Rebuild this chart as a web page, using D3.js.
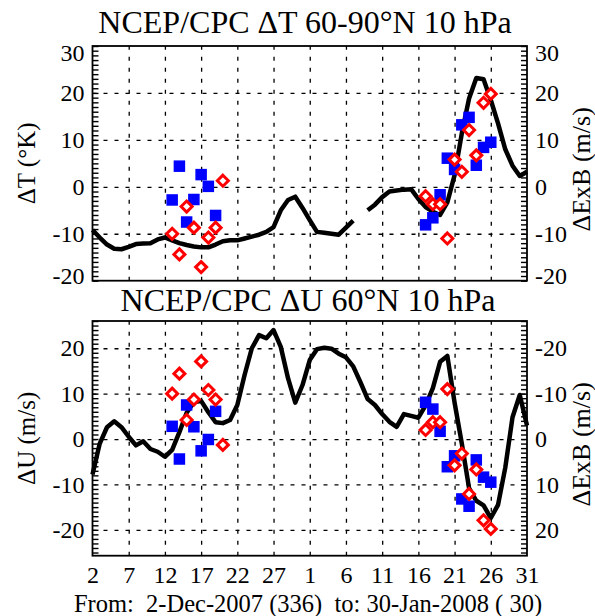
<!DOCTYPE html>
<html>
<head>
<meta charset="utf-8">
<script src="https://cdn.jsdelivr.net/npm/d3@7"></script>
<style>
  body { margin: 0; background: #fff; }
</style>
</head>
<body>
<script>
// day index 0 = 2-Dec-2007 ... 60 = 31-Jan-2008
const tickDays = [0, 5, 10, 15, 20, 25, 30, 35, 40, 45, 50, 55, 60];
const tickLabels = ['2', '7', '12', '17', '22', '27', '1', '6', '11', '16', '21', '26', '31'];

// NCEP/CPC dT 60-90N 10 hPa (daily, null = missing)
const dT = [
  -9.2, -10.8, -12.3, -13.2, -13.3, -12.8, -12.2, -12.1, -12.0, -11.2,
  -10.8, -11.4, -12.0, -12.4, -12.7, -12.9, -12.9, -12.3, -11.6, -11.4,
  -11.4, -11.0, -10.6, -10.2, -9.6, -8.6, -5.0, -2.8, -2.1, -4.5,
  -7.1, -9.6, -9.8, -10.0, -10.2, -8.7, -7.2, null, -5.0, -3.8,
  -2.2, -1.0, -0.8, -0.6, -0.5, -2.6, -4.3, -5.3, -6.0, -3.3,
  2.5, 11.4, 18.8, 23.2, 22.9, 18.5, 13.5, 8.0, 4.5, 2.3,
  3.2
];

// NCEP/CPC dU 60N 10 hPa (daily)
const dU = [
  -7.8, -1.0, 2.6, 3.9, 2.6, 0.5, -1.4, -0.5, -2.2, -2.8,
  -3.9, -2.4, 1.5, 5.8, 8.1, 8.4, 5.9, 3.7, 3.5, 4.2,
  7.5, 14.1, 20.0, 22.9, 22.2, 24.0, 20.3, 13.4, 8.0, 11.9,
  17.4, 19.8, 20.1, 19.9, 18.8, 18.0, 16.0, 12.5, 8.8, 7.5,
  5.5, 3.8, 2.7, 5.5, 5.1, 4.7, 7.4, 11.2, 17.0, 18.3,
  8.0, -1.0, -10.8, -13.6, -14.6, -17.4, -14.5, -6.3, 4.8, 9.7,
  3.0
];

// dExB (m/s), two sets
const blueDays = [11, 12, 13, 14, 15, 16, 17, 46, 47, 48, 49, 50, 51, 52, 53, 54, 55];
const blueExB = [-2.8, 4.4, -7.5, -2.7, 2.6, 0.1, -6.1, -8.1, -6.6, -1.7, 6.1, 3.7, 13.2, 14.8, 4.6, 8.4, 9.5];
const redDays = [11, 12, 13, 14, 15, 16, 17, 18, 46, 47, 48, 49, 50, 51, 52, 53, 54, 55];
const redExB = [-10.0, -14.4, -4.2, -8.7, -17.1, -10.8, -8.7, 1.3, -2.0, -3.7, -3.7, -11.0, 5.8, 3.2, 12.1, 6.7, 17.9, 19.8];

const topTicks = [-20, -10, 0, 10, 20, 30];
const botTicks = [-20, -10, 0, 10, 20];

const width = 595, height = 616;
const fontSize = 24;
const serif = 'Liberation Serif, Times New Roman, serif';

const svg = d3.select('body').append('svg')
  .attr('width', width)
  .attr('height', height)
  .style('font-family', serif);

const x = d3.scaleLinear().domain([0, 60]).range([92.5, 527]);

function styleLabels(s) {
  s.select('.domain').remove();
  s.attr('font-family', null).attr('font-size', fontSize);
  s.selectAll('text').style('font-family', serif).attr('fill', '#000');
}

function panel(o) {
  const y = o.y, yR = o.yR;
  const [b, t] = y.range();
  const [l, r] = x.range();
  const g = svg.append('g');

  // grid (dashed)
  g.append('g')
    .attr('transform', 'translate(0,' + b + ')')
    .call(d3.axisBottom(x).tickValues(tickDays.slice(1, -1)).tickSize(-(b - t)).tickFormat(''))
    .call(s => s.select('.domain').remove())
    .selectAll('line')
      .attr('stroke', '#000').attr('stroke-width', 1.3).attr('stroke-dasharray', '4,7');
  g.append('g')
    .attr('transform', 'translate(' + l + ',0)')
    .call(d3.axisLeft(y).tickValues(o.ticks.filter(v => y(v) > t + 2 && y(v) < b - 2)).tickSize(-(r - l)).tickFormat(''))
    .call(s => s.select('.domain').remove())
    .selectAll('line')
      .attr('stroke', '#000').attr('stroke-width', 1.3).attr('stroke-dasharray', '4,7');

  // minor ticks, 1 unit, inward
  const ld = y.domain();
  const minorL = d3.range(Math.ceil(ld[0]), Math.floor(ld[1]) + 1);
  g.append('g')
    .attr('transform', 'translate(' + l + ',0)')
    .call(d3.axisLeft(y).tickValues(minorL).tickSize(-6).tickFormat(''))
    .call(s => s.select('.domain').remove())
    .selectAll('line').attr('stroke', '#000').attr('stroke-width', 1.4);
  const rd = yR.domain();
  const minorR = d3.range(Math.ceil(Math.min(rd[0], rd[1])), Math.floor(Math.max(rd[0], rd[1])) + 1);
  g.append('g')
    .attr('transform', 'translate(' + r + ',0)')
    .call(d3.axisRight(yR).tickValues(minorR).tickSize(-6).tickFormat(''))
    .call(s => s.select('.domain').remove())
    .selectAll('line').attr('stroke', '#000').attr('stroke-width', 1.4);

  // tick labels (extreme ones pulled inside the frame)
  const shift = p => {
    if (p - t < 4) return 7;
    if (b - p < 4) return -5;
    return 0;
  };
  g.append('g')
    .attr('transform', 'translate(' + l + ',0)')
    .call(d3.axisLeft(y).tickValues(o.ticks).tickSize(0).tickPadding(8).tickFormat(d => String(d)))
    .call(styleLabels)
    .selectAll('text').attr('y', d => shift(y(d)));
  g.append('g')
    .attr('transform', 'translate(' + r + ',0)')
    .call(d3.axisRight(yR).tickValues(o.rTicks).tickSize(0).tickPadding(8).tickFormat(d => String(d)))
    .call(styleLabels)
    .selectAll('text').attr('y', d => shift(yR(d)));

  // data line
  const line = d3.line()
    .defined(d => d != null)
    .x((d, i) => x(i))
    .y(d => y(d));
  g.append('path')
    .datum(o.series)
    .attr('fill', 'none')
    .attr('stroke', '#000')
    .attr('stroke-width', 4.5)
    .attr('stroke-linejoin', 'round')
    .attr('d', line);

  // dExB markers
  g.selectAll('.blue')
    .data(blueDays.map((d, i) => [d, blueExB[i]]))
    .join('rect')
      .attr('x', d => x(d[0]) - 5)
      .attr('y', d => yR(d[1]) - 5)
      .attr('width', 10)
      .attr('height', 10)
      .attr('fill', '#0000ff')
      .attr('stroke', '#0000ff')
      .attr('stroke-width', 1.5);
  g.selectAll('.red')
    .data(redDays.map((d, i) => [d, redExB[i]]))
    .join('path')
      .attr('transform', d => 'translate(' + x(d[0]) + ',' + yR(d[1]) + ')')
      .attr('d', 'M0,-5.5L5.5,0L0,5.5L-5.5,0Z')
      .attr('fill', '#fff')
      .attr('stroke', '#ff0000')
      .attr('stroke-width', 3);

  // frame
  g.append('rect')
    .attr('x', l)
    .attr('y', t)
    .attr('width', r - l)
    .attr('height', b - t)
    .attr('fill', 'none')
    .attr('stroke', '#000')
    .attr('stroke-width', 1.8);

  // titles
  svg.append('text')
    .attr('x', o.titleX)
    .attr('y', o.titleY)
    .attr('text-anchor', 'middle')
    .style('font-family', serif)
    .attr('font-size', 32)
    .text(o.title);
  svg.append('text')
    .attr('transform', 'translate(' + 35 + ',' + (t + b) / 2 + ') rotate(-90)')
    .attr('text-anchor', 'middle')
    .style('font-family', serif)
    .attr('font-size', 25)
    .text(o.leftLabel);
  svg.append('text')
    .attr('transform', 'translate(' + 590 + ',' + ((t + b) / 2 + 6) + ') rotate(-90)')
    .attr('text-anchor', 'middle')
    .style('font-family', serif)
    .attr('font-size', 26)
    .text('\u0394ExB (m/s)');
}

const yT = d3.scaleLinear().domain([-20, 30]).range([280.7, 46]);
panel({
  y: yT,
  yR: yT,
  ticks: topTicks,
  rTicks: topTicks,
  series: dT,
  title: 'NCEP/CPC \u0394T 60-90\u00b0N 10 hPa',
  titleX: 305,
  titleY: 33,
  leftLabel: '\u0394T (\u00b0K)'
});

const yU = d3.scaleLinear().domain([-25.7, 26]).range([555.7, 321]);
const yE = d3.scaleLinear().domain([25.7, -26]).range([555.7, 321]);
panel({
  y: yU,
  yR: yE,
  ticks: botTicks,
  rTicks: botTicks.map(v => -v),
  series: dU,
  title: 'NCEP/CPC \u0394U 60\u00b0N 10 hPa',
  titleX: 308,
  titleY: 311,
  leftLabel: '\u0394U (m/s)'
});

// x tick labels
svg.append('g')
  .attr('transform', 'translate(0,557)')
  .call(d3.axisBottom(x).tickValues(tickDays).tickSize(0).tickPadding(9).tickFormat((d, i) => tickLabels[i]))
  .call(styleLabels);

svg.append('text')
  .attr('x', 308)
  .attr('y', 612)
  .attr('text-anchor', 'middle')
  .style('font-family', serif)
  .attr('font-size', 24.5)
  .style('white-space', 'pre')
  .text('From:  2-Dec-2007 (336)  to: 30-Jan-2008 ( 30)');
</script>
</body>
</html>
